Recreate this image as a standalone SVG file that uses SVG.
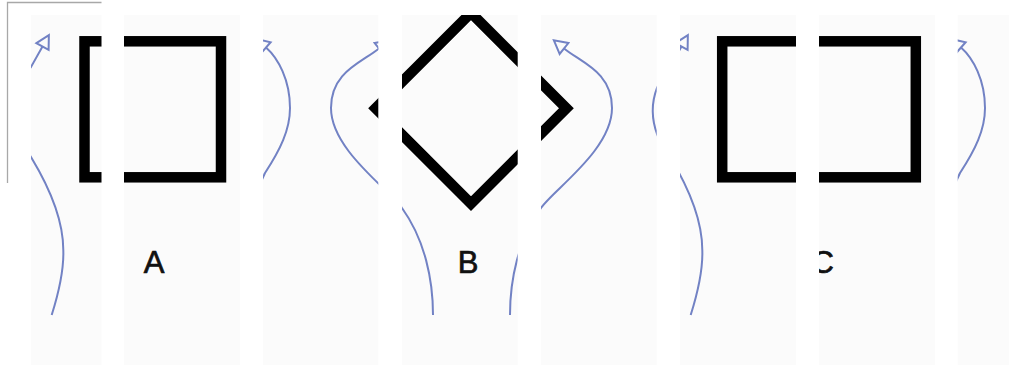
<svg xmlns="http://www.w3.org/2000/svg" width="1009" height="367" viewBox="0 0 1009 367">
  <style>
    .strip { fill: #fbfbfb; }
    .shape { fill: none; stroke: #000; stroke-width: 10.5; stroke-linejoin: miter; }
    .label { font-family: "Liberation Sans", Arial, sans-serif; font-size: 31px; fill: #111; stroke: #111; stroke-width: 0.7; }
    .curve { fill: none; stroke: #7282c4; stroke-width: 2; }
    .frame { fill: none; stroke: #a8a8a8; stroke-width: 1.3; }
  </style>
  <defs>
    <clipPath id="strips">
      <rect x="31" y="15" width="70.5" height="350"/>
      <rect x="124" y="15" width="116" height="350"/>
      <rect x="263" y="15" width="115.3" height="350"/>
      <rect x="402" y="15" width="115.7" height="350"/>
      <rect x="541" y="15" width="115.7" height="350"/>
      <rect x="680" y="15" width="116" height="350"/>
      <rect x="819" y="15" width="116" height="350"/>
      <rect x="957.7" y="15" width="52" height="350"/>
    </clipPath>
    <marker id="arr" markerUnits="userSpaceOnUse" markerWidth="18" markerHeight="18" refX="1" refY="8" orient="auto" overflow="visible">
      <path d="M1,1 L14,8 L1,15 Z" fill="#fbfbfb" stroke="#7282c4" stroke-width="2" stroke-linejoin="miter"/>
    </marker>
  </defs>

  <rect x="0" y="0" width="1009" height="367" fill="#ffffff"/>
  <path class="frame" d="M101.5,2.5 H7.5 V183"/>

  <g id="strips-bg">
    <rect class="strip" x="31" y="15" width="70.5" height="350"/>
    <rect class="strip" x="124" y="15" width="116" height="350"/>
    <rect class="strip" x="263" y="15" width="115.3" height="350"/>
    <rect class="strip" x="402" y="15" width="115.7" height="350"/>
    <rect class="strip" x="541" y="15" width="115.7" height="350"/>
    <rect class="strip" x="680" y="15" width="116" height="350"/>
    <rect class="strip" x="819" y="15" width="116" height="350"/>
    <rect class="strip" x="957.7" y="15" width="52" height="350"/>
  </g>

  <g clip-path="url(#strips)">
    <g id="node-A">
      <rect class="shape" x="84.5" y="41.3" width="136.5" height="136"/>
      <text class="label" x="154" y="273" text-anchor="middle">A</text>
    </g>
    <g id="node-B">
      <polygon class="shape" points="471,12.9 566.4,108.3 471,203.7 375.6,108.3"/>
      <text class="label" x="468" y="273" text-anchor="middle">B</text>
    </g>
    <g id="node-C">
      <rect class="shape" x="722.2" y="41.3" width="193.6" height="136"/>
      <text class="label" x="822.7" y="273" text-anchor="middle">C</text>
    </g>
    <g id="connectors">
      <path class="curve" marker-end="url(#arr)" d="M51.7,315 C58,295 64,270 63.3,250 C63.3,220 48,185 31,157 C9,128 7,95 31,67 L42.5,46.5"/>
      <path class="curve" marker-end="url(#arr)" d="M253,315 C247,295 241,270 241.7,250 C241.7,220 255,195 265,173 C280,150 290,130 290,108 C290,80 278,58 266,47.5"/>
      <path class="curve" marker-end="url(#arr)" d="M433,315 C433,280 425,240 402,208 C390,190 331,150 331,108 C331,72 361,63 379,48.5"/>
      <path class="curve" marker-end="url(#arr)" d="M510,315 C510,280 518,240 541,208 C553,190 612,150 612,108 C612,72 582,63 564,48.5"/>
      <path class="curve" marker-end="url(#arr)" transform="translate(639,0)" d="M51.7,315 C58,295 64,270 63.3,250 C63.3,220 48,185 31,157 C9,128 7,95 31,67 L42.5,46.5"/>
      <path class="curve" marker-end="url(#arr)" transform="translate(695,0)" d="M253,315 C247,295 241,270 241.7,250 C241.7,220 255,195 265,173 C280,150 290,130 290,108 C290,80 278,58 266,47.5"/>
    </g>
  </g>
</svg>
